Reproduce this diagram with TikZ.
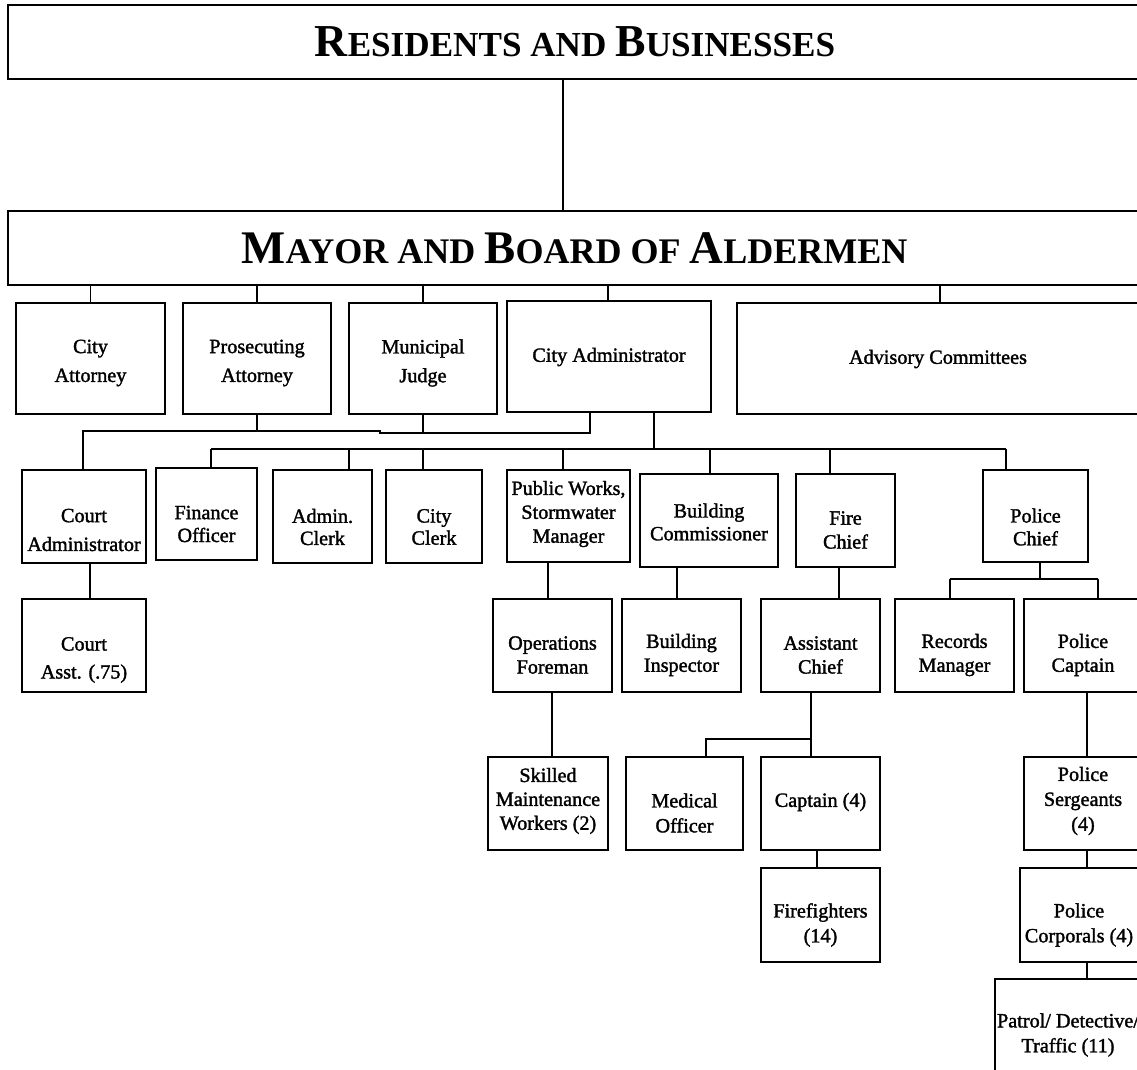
\documentclass[tikz,border=0pt]{standalone}
\usepackage{fontspec}
\setmainfont{Liberation Serif}
\newfontfamily\bodyfont{Liberation Serif}[FakeBold=1.6]
\usetikzlibrary{fit}
\newcommand\Lg{\fontsize{26}{26}\selectfont}
\newcommand\Sm{\fontsize{20}{20}\selectfont}
\newcommand\Lgm{\fontsize{26.6}{26.6}\selectfont}
\newcommand\Smm{\fontsize{20.5}{20.5}\selectfont}
% name, x1, y1, x2, y2, text-y, text
\newcommand\orgbox[7]{%
  \node[box, fit={(#2,#3) (#4,#5)}] (#1) {};
  \node[txt] (#1-t) at ({(#2+#4)/2},#6) {#7};
}
\begin{document}
\begin{tikzpicture}[x=0.02cm,y=-0.02cm,
  box/.style={draw, line width=1pt, inner sep=0pt},
  txt/.style={align=center, inner sep=0pt, font=\bodyfont\fontsize{11.5}{13.6}\selectfont},
  ttl/.style={inner sep=0pt, font=\bfseries},
  link/.style={line width=0.9pt}]
\useasboundingbox (0,0) rectangle (1137,1070);
\clip (0,0) rectangle (1137,1070);

% titles
\node[box, fit={(8,5) (1141,79)}] (res) {};
\node[ttl] (res-t) at (575,42) {{\Lg R}{\Sm ESIDENTS AND }{\Lg B}{\Sm USINESSES}};
\node[box, fit={(8,211) (1141,285)}] (mayor) {};
\node[ttl] (mayor-t) at (574.5,248) {{\Lgm M}{\Smm AYOR AND }{\Lgm B}{\Smm OARD OF }{\Lgm A}{\Smm LDERMEN}};

% row 2
\orgbox{catt}{16}{303}{165}{414}{363}{City\\[2.8pt]Attorney}
\orgbox{pros}{183}{303}{331}{414}{363}{Prosecuting\\[2.8pt]Attorney}
\orgbox{judge}{349}{303}{497}{414}{363}{Municipal\\[2.8pt]Judge}
\orgbox{cadm}{507}{301}{711}{412}{357}{City Administrator}
\orgbox{adv}{737}{303}{1139}{414}{359}{Advisory Committees}

% row 3
\orgbox{court}{22}{470}{146}{563}{530}{Court\\[2.8pt]Administrator}
\orgbox{fin}{156}{468}{257}{560}{524}{Finance\\[-0.6pt]Officer}
\orgbox{aclerk}{273}{470}{372}{563}{527}{Admin.\\[-1pt]Clerk}
\orgbox{cclerk}{386}{470}{482}{563}{527}{City\\[-1pt]Clerk}
\orgbox{pw}{507}{470}{630}{562}{514}{Public Works,\\Stormwater\\Manager}
\orgbox{bcom}{640}{474}{778}{567}{522}{Building\\[-0.6pt]Commissioner}
\orgbox{fire}{796}{474}{895}{567}{530}{Fire\\Chief}
\orgbox{police}{983}{470}{1088}{562}{527}{Police\\[-0.6pt]Chief}

% row 4
\orgbox{casst}{22}{599}{146}{692}{660}{Court\\[2.3pt]Asst. (.75)}
\orgbox{opf}{493}{599}{612}{692}{655}{Operations\\Foreman}
\orgbox{binsp}{622}{599}{741}{692}{655}{Building\\Inspector}
\orgbox{achief}{761}{599}{880}{692}{655}{Assistant\\Chief}
\orgbox{rec}{895}{599}{1014}{692}{655}{Records\\Manager}
\orgbox{pcap}{1024}{599}{1142}{692}{655}{Police\\Captain}

% row 5
\orgbox{skill}{488}{757}{608}{850}{801}{Skilled\\Maintenance\\Workers (2)}
\orgbox{med}{626}{757}{743}{850}{813}{Medical\\[0.6pt]Officer}
\orgbox{capt}{761}{757}{880}{850}{802}{Captain (4)}
\orgbox{serg}{1024}{757}{1142}{850}{801}{Police\\[0.6pt]Sergeants\\[0.6pt](4)}
\orgbox{ff}{761}{868}{880}{962}{925}{Firefighters\\[0.6pt](14)}
\orgbox{corp}{1020}{868}{1138}{962}{925}{Police\\[0.6pt]Corporals (4)}
\orgbox{patrol}{995}{979}{1141}{1100}{1035}{Patrol/ Detective/\\[0.6pt]Traffic (11)}

% junction coordinates
\coordinate (b1a) at (83,431);
\coordinate (b1b) at (380,431);
\coordinate (b1c) at (380,433);
\coordinate (b1d) at (590,433);
\coordinate (b2) at (654,449);
\coordinate (b2w) at (211,449);
\coordinate (b2e) at (1006,449);
\coordinate (b3) at (1040,579);
\coordinate (b3w) at (950,579);
\coordinate (b3e) at (1098,579);
\coordinate (b4) at (811,739);
\coordinate (b4w) at (706,739);

\begin{scope}[link]
\draw[line width=0.6pt] (res.south -| 563,0) -- (mayor.north -| 563,0);
\draw (mayor.south -| catt.north) -- (catt.north);
\draw (mayor.south -| pros.north) -- (pros.north);
\draw (mayor.south -| judge.north) -- (judge.north);
\draw (mayor.south -| 608,0) -- (cadm.north -| 608,0);
\draw (mayor.south -| 940,0) -- (adv.north -| 940,0);

% legal bus
\draw (court.north -| b1a) -- (b1a) -- (b1b) -- (b1c) -- (b1d) -- (cadm.south -| b1d);
\draw (pros.south) -- (pros.south |- b1a);
\draw (judge.south) -- (judge.south |- b1c);

% administration bus
\draw (cadm.south -| b2) -- (b2);
\draw (b2w) -- (b2e);
\draw (b2w) -- (fin.north -| b2w);
\draw (349,449) -- (aclerk.north -| 349,0);
\draw (423,449) -- (cclerk.north -| 423,0);
\draw (563,449) -- (pw.north -| 563,0);
\draw (710,449) -- (bcom.north -| 710,0);
\draw (830,449) -- (fire.north -| 830,0);
\draw (b2e) -- (police.north -| b2e);

% lower connectors
\draw (court.south -| 90,0) -- (casst.north -| 90,0);
\draw (pw.south -| 548,0) -- (opf.north -| 548,0);
\draw (bcom.south -| 677,0) -- (binsp.north -| 677,0);
\draw (fire.south -| 839,0) -- (achief.north -| 839,0);
\draw (police.south -| b3) -- (b3);
\draw (b3w) -- (b3e);
\draw (b3w) -- (rec.north -| b3w);
\draw (b3e) -- (pcap.north -| b3e);
\draw (opf.south -| 552,0) -- (skill.north -| 552,0);
\draw (achief.south -| b4) -- (b4) -- (b4w) -- (med.north -| b4w);
\draw (b4) -- (capt.north -| b4);
\draw (capt.south -| 817,0) -- (ff.north -| 817,0);
\draw (pcap.south -| 1087,0) -- (serg.north -| 1087,0);
\draw (serg.south -| 1087,0) -- (corp.north -| 1087,0);
\draw (corp.south -| 1087,0) -- (patrol.north -| 1087,0);
\end{scope}
\end{tikzpicture}
\end{document}
